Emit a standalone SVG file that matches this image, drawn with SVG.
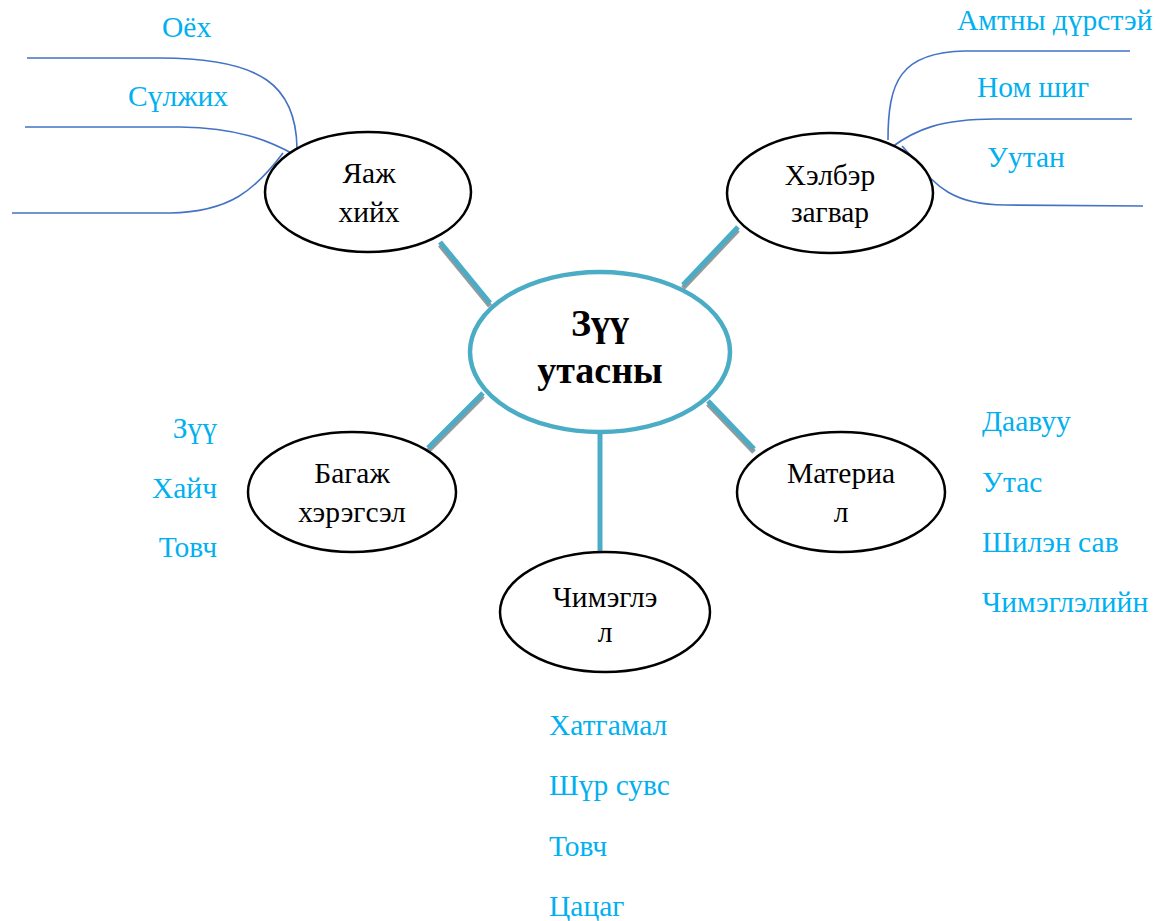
<svg xmlns="http://www.w3.org/2000/svg" width="1166" height="921" viewBox="0 0 1166 921">
<style>
.node{fill:#fff;stroke:#000;stroke-width:2.5}
.center{fill:#fff;stroke:#4bacc6;stroke-width:4.5}
.lbl{font-family:"Liberation Serif","Times New Roman",serif;font-size:29.5px;fill:#000;text-anchor:middle}
.ctr{font-family:"Liberation Serif","Times New Roman",serif;font-size:38px;font-weight:bold;fill:#000;text-anchor:middle}
.item{font-family:"Liberation Serif","Times New Roman",serif;font-size:29.5px;fill:#00b0f0}
.spoke{stroke:#4bacc6;stroke-width:5;fill:none}
.shadow{stroke:#999;stroke-width:5;fill:none}
.branch{stroke:#4472c4;stroke-width:1.6;fill:none}
</style>
<rect width="1166" height="921" fill="#fff"/>
<g id="connectors">
<g id="spoke-shadows" transform="translate(0,3)">
<line class="shadow" x1="440" y1="242" x2="490" y2="303"/>
<line class="shadow" x1="738" y1="227" x2="683" y2="285"/>
<line class="shadow" x1="483" y1="393" x2="428" y2="448"/>
<line class="shadow" x1="708" y1="401" x2="754" y2="449"/>
</g>
<line class="spoke" x1="440" y1="242" x2="490" y2="303"/>
<line class="spoke" x1="738" y1="227" x2="683" y2="285"/>
<line class="spoke" x1="483" y1="393" x2="428" y2="448"/>
<line class="spoke" x1="708" y1="401" x2="754" y2="449"/>
<line class="spoke" x1="600" y1="433" x2="600" y2="552"/>
<path class="branch" d="M27,58 L160,58 C262,58 296,86 297,148"/>
<path class="branch" d="M25,127 L180,127 C238,128 268,140 295,155"/>
<path class="branch" d="M12,213 L170,213 C230,212 255,190 283,153"/>
<path class="branch" d="M888,140 C888,82 900,52 965,51 L1130,51"/>
<path class="branch" d="M892,147 C915,130 940,119 995,119 L1132,119"/>
<path class="branch" d="M902,146 C930,175 940,205 1005,205 L1143,206"/>
</g>
<g id="center">
<ellipse class="center" cx="600" cy="352" rx="130" ry="80"/>
<text class="ctr" x="600" y="336">Зүү</text>
<text class="ctr" x="600" y="383">утасны</text>
</g>
<g id="node-yaaj">
<ellipse class="node" cx="368" cy="192" rx="103" ry="60"/>
<text class="lbl" x="369" y="183">Яаж</text>
<text class="lbl" x="369" y="222">хийх</text>
</g>
<g id="node-helber">
<ellipse class="node" cx="830" cy="193" rx="103" ry="60"/>
<text class="lbl" x="830" y="185">Хэлбэр</text>
<text class="lbl" x="830" y="222">загвар</text>
</g>
<g id="node-bagaj">
<ellipse class="node" cx="352" cy="492" rx="104" ry="60"/>
<text class="lbl" x="352" y="483">Багаж</text>
<text class="lbl" x="352" y="522">хэрэгсэл</text>
</g>
<g id="node-material">
<ellipse class="node" cx="841" cy="492" rx="104" ry="60"/>
<text class="lbl" x="841" y="483">Материа</text>
<text class="lbl" x="841" y="522">л</text>
</g>
<g id="node-chimeglel">
<ellipse class="node" cx="605" cy="612" rx="105" ry="60"/>
<text class="lbl" x="605" y="607">Чимэглэ</text>
<text class="lbl" x="605" y="642">л</text>
</g>
<g id="labels-yaaj">
<text class="item" x="162" y="37">Оёх</text>
<text class="item" x="128" y="106">Сүлжих</text>
</g>
<g id="labels-helber">
<text class="item" x="957" y="30">Амтны дүрстэй</text>
<text class="item" x="977" y="97">Ном шиг</text>
<text class="item" x="987" y="167">Уутан</text>
</g>
<g id="labels-bagaj">
<text class="item" x="217" y="438" text-anchor="end">Зүү</text>
<text class="item" x="217" y="498" text-anchor="end">Хайч</text>
<text class="item" x="217" y="557" text-anchor="end">Товч</text>
</g>
<g id="labels-material">
<text class="item" x="982" y="431">Даавуу</text>
<text class="item" x="982" y="492">Утас</text>
<text class="item" x="982" y="552">Шилэн сав</text>
<text class="item" x="982" y="612">Чимэглэлийн</text>
</g>
<g id="labels-chimeglel">
<text class="item" x="549" y="735">Хатгамал</text>
<text class="item" x="549" y="795">Шүр сувс</text>
<text class="item" x="549" y="856">Товч</text>
<text class="item" x="549" y="916">Цацаг</text>
</g>
</svg>
